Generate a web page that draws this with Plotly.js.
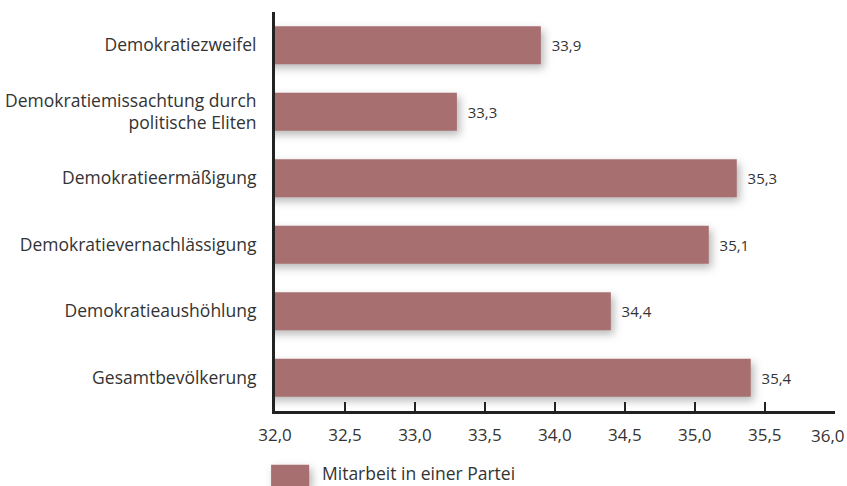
<!DOCTYPE html>
<html>
<head>
<meta charset="utf-8">
<script src="https://cdn.plot.ly/plotly-3.0.1.min.js"></script>
<style>
  body { margin: 0; background: #fff; }
  #chart { width: 847px; height: 486px; }
  /* leichter Schatten wie im Original */
  #chart .bars .point path,
  #chart .shapelayer path { filter: drop-shadow(3px 4px 4px rgba(0,0,0,0.28)); }
</style>
</head>
<body>
<div id="chart"></div>
<script>
// Kategorien von unten nach oben
const categories = [
  "Gesamtbevölkerung",
  "Demokratieaushöhlung",
  "Demokratievernachlässigung",
  "Demokratieermäßigung",
  "Demokratiemissachtung durch<br>politische Eliten",
  "Demokratiezweifel"
];
const values = [35.4, 34.4, 35.1, 35.3, 33.3, 33.9];
const seriesName = "Mitarbeit in einer Partei";
const xTicks = [32.0, 32.5, 33.0, 33.5, 34.0, 34.5, 35.0, 35.5, 36.0];
const xTickText = ["32,0", "32,5", "33,0", "33,5", "34,0", "34,5", "35,0", "35,5", "36,0"];

const barColor = "#a86f70";
const fontFamily = "Open Sans, sans-serif";
const textFont = { family: fontFamily, size: 17.5, color: "#333" };
const tickFont = { family: fontFamily, size: 17, color: "#333" };

const lastIdx = xTicks.length - 1;

const trace = {
  type: "bar",
  orientation: "h",
  name: seriesName,
  y: categories,
  x: values,
  width: 0.57,
  marker: { color: barColor, line: { width: 0 } },
  text: values.map(v => v.toFixed(1).replace(".", ",")),
  texttemplate: "\u00a0\u00a0%{text}",
  textposition: "outside",
  cliponaxis: false,
  textfont: { family: fontFamily, size: 15, color: "#333" },
  hoverinfo: "none"
};

const layout = {
  width: 847,
  height: 486,
  margin: { l: 275, r: 12, t: 12, b: 75 },
  paper_bgcolor: "#fff",
  plot_bgcolor: "#fff",
  showlegend: false,
  font: textFont,
  separators: ",.",
  bargap: 0.43,
  xaxis: {
    range: [32, 36.002],
    tickvals: xTicks,
    // die letzte Beschriftung kommt als Annotation, damit sie am Rand Platz hat
    ticktext: xTickText.map((t, i) => (i === lastIdx ? "" : t)),
    showgrid: false,
    zeroline: false,
    showline: true,
    linecolor: "#222",
    linewidth: 3,
    ticks: "inside",
    ticklen: 9,
    tickwidth: 2,
    tickcolor: "#222",
    ticklabelstandoff: 7,
    tickfont: tickFont,
    fixedrange: true
  },
  yaxis: {
    showgrid: false,
    zeroline: false,
    showline: true,
    linecolor: "#222",
    linewidth: 3,
    ticks: "",
    ticklabelstandoff: 12,
    tickfont: textFont,
    fixedrange: true
  },
  shapes: [{
    type: "rect",
    xref: "paper", yref: "paper",
    x0: -0.007, x1: 0.061,
    y0: -0.19, y1: -0.135,
    fillcolor: barColor,
    line: { width: 0 }
  }],
  annotations: [
    {
      xref: "x", yref: "paper",
      x: xTicks[lastIdx], y: 0,
      xanchor: "right", yanchor: "top",
      xshift: 11, yshift: -12,
      borderpad: 0,
      text: xTickText[lastIdx],
      showarrow: false,
      font: tickFont
    },
    {
      xref: "paper", yref: "paper",
      x: 0.082, y: -0.155,
      xanchor: "left", yanchor: "middle",
      borderpad: 0,
      text: seriesName,
      showarrow: false,
      font: { family: fontFamily, size: 17.5, color: "#333" }
    }
  ]
};

Plotly.newPlot("chart", [trace], layout, { displayModeBar: false, staticPlot: true });
</script>
</body>
</html>
